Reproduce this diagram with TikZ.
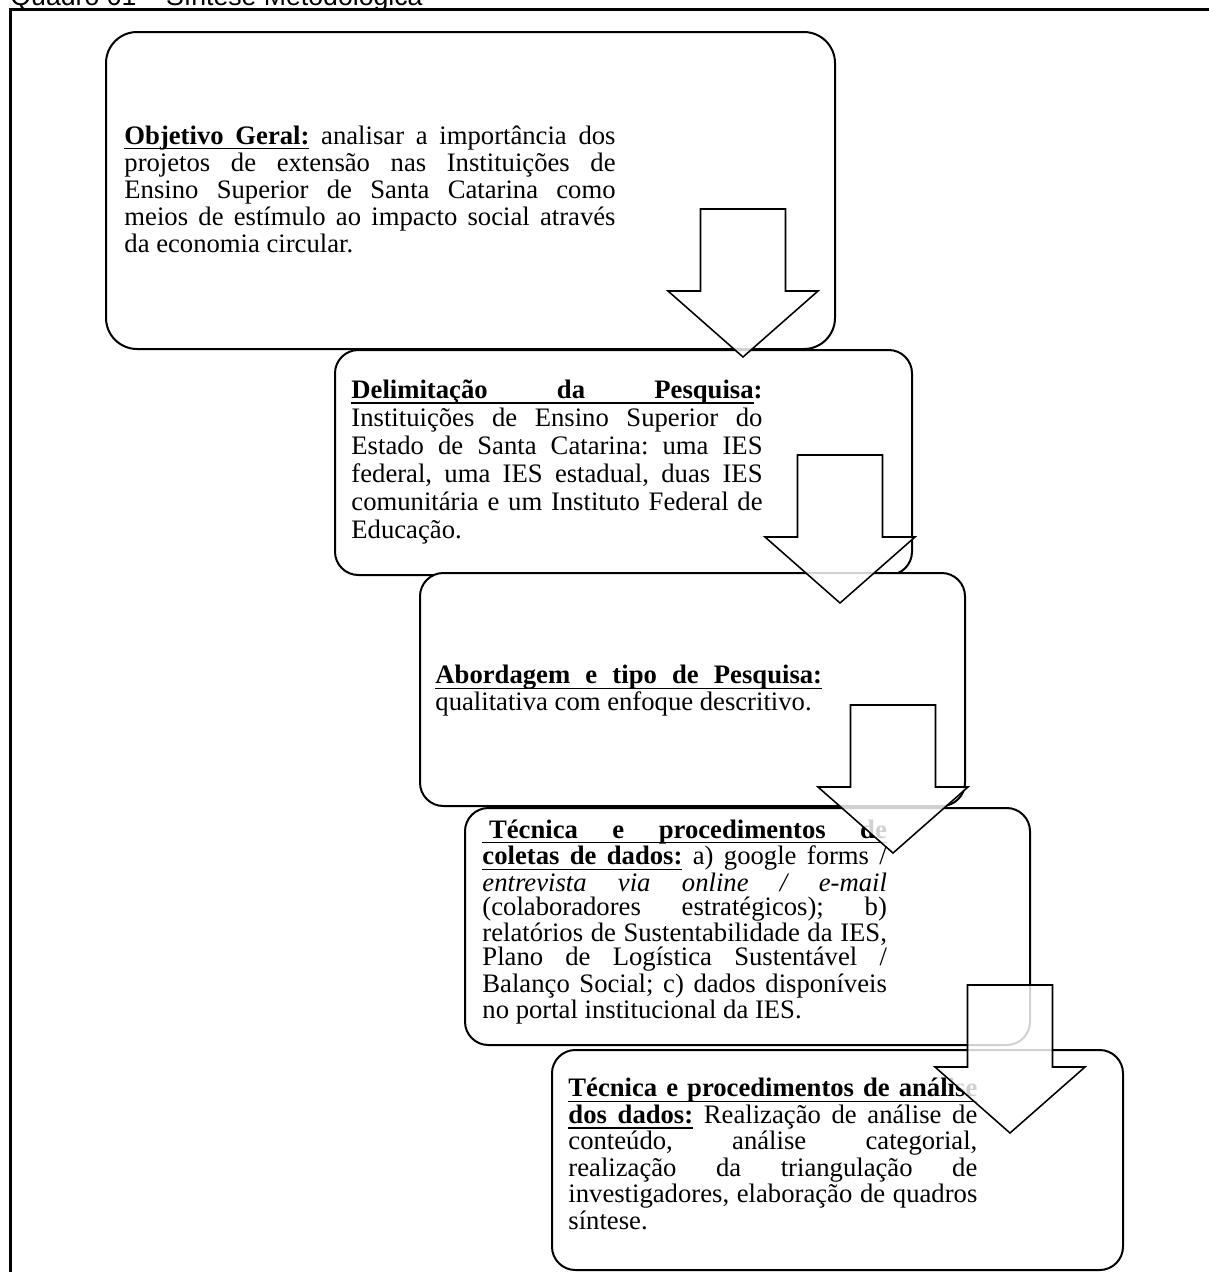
\documentclass[tikz,border=0pt]{standalone}
\usepackage{fontspec}
\setmainfont{Liberation Serif}
\newfontfamily\arialfont{Liberation Sans}
\usetikzlibrary{positioning,calc}

\newcommand{\boxfont}[1]{\fontsize{12}{#1}\selectfont}
% underlined word and underlined (stretchable) space
\newsavebox\ulbox
\newcommand{\ulw}[1]{\sbox\ulbox{#1}\rlap{\vrule height -1.7pt depth 2.4pt width \wd\ulbox}\usebox\ulbox}
\newcommand{\ulsp}{\leaders\hrule height -1.7pt depth 2.4pt\hskip\fontdimen2\font plus\fontdimen3\font minus\fontdimen4\font\relax}
\hyphenpenalty=10000
\hbadness=10000
\frenchspacing

\tikzset{
  roundBox/.style={draw, line width=0.9pt, fill=white},
  boxText/.style={anchor=west, inner sep=0pt, align=justify},
  titleText/.style={font=\arialfont\fontsize{12}{14}\selectfont, inner sep=0pt, anchor=base west},
  blockArrow/.pic={
    \draw[line width=0.7pt, fill=white, fill opacity=0.82]
      (-42.5,-148) -- (42.5,-148) -- (42.5,-66) -- (75,-66) -- (0,0)
      -- (-75,-66) -- (-42.5,-66) -- cycle;
  }
}

\begin{document}
\begin{tikzpicture}[x=0.45pt,y=-0.45pt]
  \useasboundingbox (0,0) rectangle (1208,1272);

  % caption and frame
  \node[titleText] (title) at (10,5) {Quadro 01 – Síntese Metodológica};
  \draw[line width=1.1pt] (10.5,1300) -- (10.5,9.5) -- (1250,9.5);

  % objetivo geral
  \draw[roundBox, rounded corners=14pt] (106,32) rectangle (835,349);
  \node[boxText, text width=221pt, font=\boxfont{12.15pt}] (objetivo) at (124,189)
    {\textbf{\ulw{Objetivo}\ulsp\ulw{Geral:}\ulsp}analisar a importância dos\linebreak
     projetos de extensão nas Instituições de\linebreak
     Ensino Superior de Santa Catarina como\linebreak
     meios de estímulo ao impacto social através\linebreak
     da economia circular.};

  % delimitacao
  \draw[roundBox, rounded corners=10.5pt] (335,350) rectangle (912,575);
  \node[boxText, text width=185pt, font=\boxfont{12.6pt}] (delimitacao) at (351,462)
    {\textbf{\ulw{Delimitação}\ulsp\ulw{da}\ulsp\ulw{Pesquisa}:}\linebreak
     Instituições de Ensino Superior do\linebreak
     Estado de Santa Catarina: uma IES\linebreak
     federal, uma IES estadual, duas IES\linebreak
     comunitária e um Instituto Federal de\linebreak
     Educação.};
  \pic (seta1) at (743,357) {blockArrow};

  % abordagem
  \draw[roundBox, rounded corners=10.5pt] (420,573) rectangle (965,806);
  \node[boxText, text width=174pt, font=\boxfont{12.15pt}] (abordagem) at (435,691)
    {\textbf{\ulw{Abordagem}\ulsp\ulw{e}\ulsp\ulw{tipo}\ulsp\ulw{de}\ulsp\ulw{Pesquisa:}}\linebreak
     qualitativa com enfoque descritivo.};
  \pic (seta2) at (840,603) {blockArrow};

  % coleta
  \draw[roundBox, rounded corners=10.5pt] (465,808) rectangle (1030,1045);
  \node[boxText, text width=182pt, font=\boxfont{10.8pt}] (coleta) at (482,922)
    {\textbf{\ulw{\kern3pt}\ulw{Técnica}\ulsp\ulw{e}\ulsp\ulw{procedimentos}\ulsp\ulw{de}}\linebreak
     \textbf{\ulw{coletas}\ulsp\ulw{de}\ulsp\ulw{dados:}} a) google forms /\linebreak
     \textit{entrevista via online / e-mail}\linebreak
     (colaboradores estratégicos); b)\linebreak
     relatórios de Sustentabilidade da IES,\linebreak
     Plano de Logística Sustentável /\linebreak
     Balanço Social; c) dados disponíveis\linebreak
     no portal institucional da IES.};
  \pic (seta3) at (893,853) {blockArrow};

  % analise
  \draw[roundBox, rounded corners=10.5pt] (552,1050) rectangle (1123,1270);
  \node[boxText, text width=184pt, font=\boxfont{11.9pt}] (analise) at (568,1154)
    {\textbf{\ulw{Técnica}\ulsp\ulw{e}\ulsp\ulw{procedimentos}\ulsp\ulw{de}\ulsp\ulw{análise}}\linebreak
     \textbf{\ulw{dos}\ulsp\ulw{dados:}} Realização de análise de\linebreak
     conteúdo, análise categorial,\linebreak
     realização da triangulação de\linebreak
     investigadores, elaboração de quadros\linebreak
     síntese.};
  \pic (seta4) at (1010,1133) {blockArrow};
\end{tikzpicture}
\end{document}
